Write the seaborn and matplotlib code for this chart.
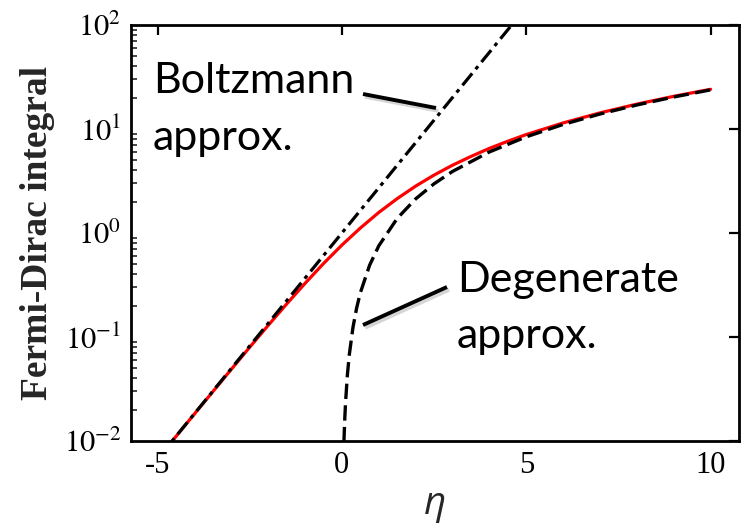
import matplotlib
matplotlib.use("Agg")
import matplotlib.pyplot as plt
import matplotlib.ticker as mticker
import matplotlib.patheffects as pe
from matplotlib.lines import Line2D
import seaborn as sns

# Full Fermi-Dirac integral F_1/2(eta)
eta_fd = [-6, -5, -4, -3, -2.5, -2, -1.5, -1, -0.5, 0, 0.5, 1, 1.5, 2, 2.5,
          3, 3.5, 4, 4.5, 5, 6, 7, 8, 9, 10]
fd_vals = [0.00247, 0.00672, 0.0182, 0.0489, 0.0798, 0.1293, 0.2074, 0.3278,
           0.5083, 0.7652, 1.116, 1.576, 2.141, 2.824, 3.607,
           4.488, 5.445, 6.512, 7.63, 8.84, 11.44, 14.29, 17.35, 20.62, 24.09]

# Boltzmann (non-degenerate) approximation
eta_boltz = [-6, -5, -4, -3, -2, -1, 0, 1, 2, 3, 4, 5]
boltz_vals = [0.00248, 0.00674, 0.0183, 0.0498, 0.1353, 0.3679, 1.0, 2.718,
              7.389, 20.09, 54.6, 148.4]

# Degenerate approximation
eta_degen = [0.04, 0.05, 0.06, 0.08, 0.1, 0.15, 0.2, 0.3, 0.4, 0.5, 0.75, 1,
             1.5, 2, 2.5, 3, 4, 5, 6, 7, 8, 9, 10]
degen_vals = [0.00602, 0.00841, 0.01106, 0.01702, 0.02379, 0.0437, 0.06728,
              0.1236, 0.1903, 0.2660, 0.4886, 0.7523, 1.382, 2.128, 2.973,
              3.909, 6.018, 8.410, 11.06, 13.93, 17.02, 20.31, 23.79]

x_ticks = [-5, 0, 5, 10]
x_tick_labels = ["-5", "0", "5", "10"]
y_ticks = [1e-2, 1e-1, 1e0, 1e1, 1e2]
y_tick_labels = [r"$10^{-2}$", r"$10^{-1}$", r"$10^{0}$", r"$10^{1}$", r"$10^{2}$"]

sns.set_theme(style="white")
plt.rcParams["mathtext.fontset"] = "stix"
plt.rcParams["font.family"] = ["Liberation Serif", "DejaVu Serif"]

W, H = 748, 524
fig = plt.figure(figsize=(W / 100, H / 100), dpi=100)
ax = fig.add_axes([131 / W, 1 - 441 / H, (739 - 131) / W, (441 - 25) / H])

sns.lineplot(x=eta_fd, y=fd_vals, color="#ff0000", lw=2.3, ax=ax)
sns.lineplot(x=eta_boltz, y=boltz_vals, color="black", lw=2.3, ax=ax)
ax.lines[-1].set_dashes([4.8, 1.7, 1.2, 1.7])
sns.lineplot(x=eta_degen, y=degen_vals, color="black", lw=2.4, ax=ax)
ax.lines[-1].set_dashes([4.6, 1.9])

ax.set_yscale("log")
ax.set_xlim(-5.72, 10.77)
ax.set_ylim(1e-2, 1e2)

ax.set_xticks(x_ticks)
ax.set_xticklabels(x_tick_labels)
ax.set_yticks(y_ticks)
ax.set_yticklabels(y_tick_labels)
ax.yaxis.set_minor_locator(mticker.LogLocator(base=10, subs=range(2, 10), numticks=20))
ax.yaxis.set_minor_formatter(mticker.NullFormatter())

for s in ax.spines.values():
    s.set_linewidth(2.0)
    s.set_color("black")

ax.tick_params(which="major", direction="in", length=7, width=1.6,
               top=True, right=True, labelsize=22, pad=7, colors="black")
ax.tick_params(which="minor", direction="in", length=4, width=1.2,
               left=True, right=False, top=False, bottom=False)
for lab in ax.get_xticklabels() + ax.get_yticklabels():
    lab.set_fontfamily(["Liberation Serif", "DejaVu Serif"])

ax.set_ylabel("Fermi-Dirac integral", fontsize=27, fontweight="bold",
              fontfamily=["Liberation Serif", "DejaVu Serif"])
ax.yaxis.set_label_coords(-0.125, 0.5)
ax.set_xlabel("η", fontsize=28, fontstyle="italic",
              fontfamily=["Open Sans", "DejaVu Sans"], labelpad=4)

# Callout labels
txt_kw = dict(fontsize=31, fontfamily=["Lato", "DejaVu Sans"], color="black",
              ha="left", va="baseline", transform=fig.transFigure)
fig.text(153 / W, 1 - 93 / H, "Boltzmann", **txt_kw)
fig.text(153 / W, 1 - 150 / H, "approx.", **txt_kw)
fig.text(457 / W, 1 - 292 / H, "Degenerate", **txt_kw)
fig.text(457 / W, 1 - 348 / H, "approx.", **txt_kw)

# Leader lines with soft shadow
shadow = [pe.SimpleLineShadow(offset=(1.5, -2), alpha=0.18), pe.Normal()]
for (x1, y1), (x2, y2) in [((363, 94), (436, 108)), ((447, 287), (363, 325))]:
    fig.add_artist(Line2D([x1 / W, x2 / W], [1 - y1 / H, 1 - y2 / H],
                          transform=fig.transFigure, color="black", lw=2.8,
                          solid_capstyle="butt", path_effects=shadow))

fig.savefig("out.png", dpi=100)
